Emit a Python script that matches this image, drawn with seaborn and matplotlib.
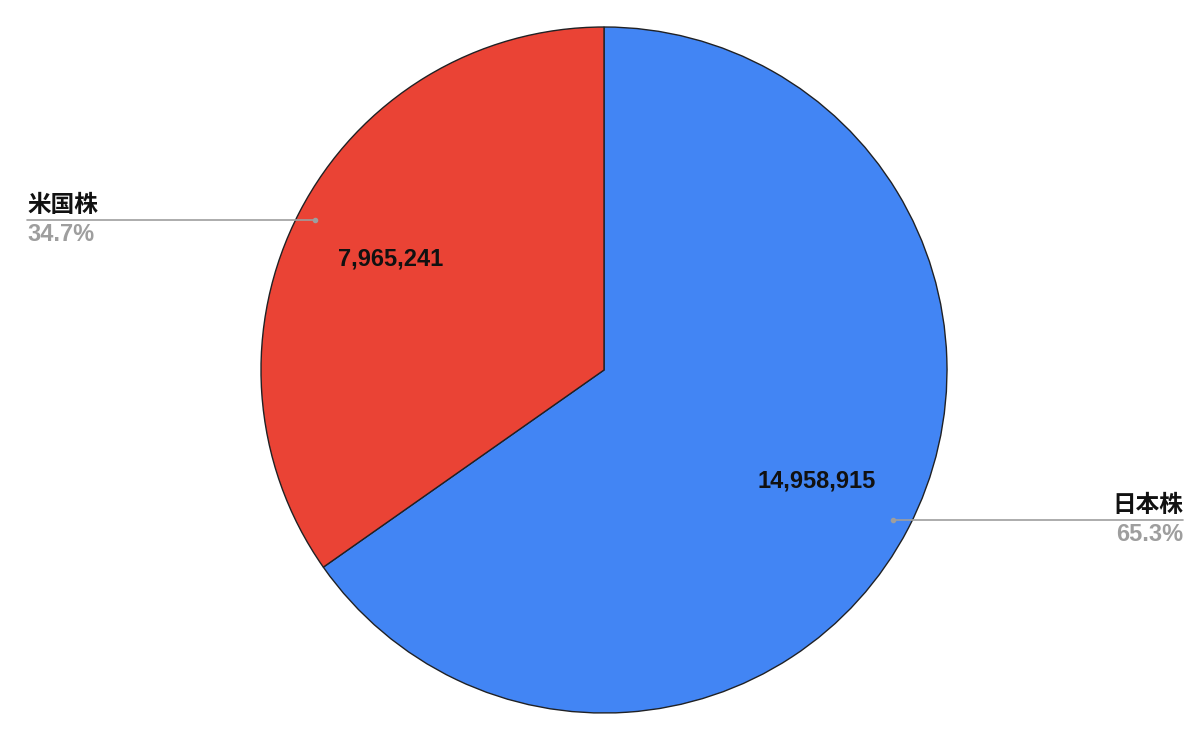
import numpy as np
import matplotlib
matplotlib.use("Agg")
import matplotlib.pyplot as plt
import seaborn as sns

# data
labels = ["日本株", "米国株"]
values = [14958915, 7965241]
colors = ["#4285F4", "#EA4335"]

sns.set_theme(style="white")
plt.rcParams["font.family"] = ["Noto Sans CJK JP", "Liberation Sans", "DejaVu Sans"]

W, H = 1200, 737
fig = plt.figure(figsize=(W / 100, H / 100), dpi=100)
ax = fig.add_axes([0, 0, 1, 1])
ax.set_xlim(0, W)
ax.set_ylim(0, H)
ax.set_aspect("equal")
ax.axis("off")

cx, cy, r = 604, H - 370, 343
total = sum(values)

wedges, texts, autotexts = ax.pie(
    values, colors=colors, startangle=90, counterclock=False,
    center=(cx, cy), radius=r, frame=True,
    autopct=lambda p: f"{p * total / 100:,.0f}", pctdistance=0.7,
    wedgeprops=dict(edgecolor="#202124", linewidth=1),
    textprops=dict(fontsize=17, fontweight="bold", color="#111111",
                   family=["Liberation Sans", "DejaVu Sans"]),
)
ax.set_xlim(0, W)
ax.set_ylim(0, H)
ax.axis("off")

# outside labels with leader lines
for w, lab, v in zip(wedges, labels, values):
    mid = np.deg2rad((w.theta1 + w.theta2) / 2)
    px = cx + 0.95 * r * np.cos(mid)
    py = cy + 0.95 * r * np.sin(mid)
    right = np.cos(mid) > 0
    xend = 1183 if right else 27
    ax.plot([px, xend], [py, py], color="#9e9e9e", lw=1.2, zorder=3)
    ax.plot(px, py, "o", color="#9e9e9e", ms=3, zorder=4)
    ha = "right" if right else "left"
    ax.text(xend, py + 3, lab, ha=ha, va="bottom", fontsize=17,
            fontweight="bold", color="#111111")
    ax.text(xend, py - 3, f"{v / total * 100:.1f}%", ha=ha, va="top",
            fontsize=17, fontweight="bold", color="#9e9e9e",
            family=["Liberation Sans", "DejaVu Sans"])

fig.savefig("out.png", dpi=100, facecolor="white")
